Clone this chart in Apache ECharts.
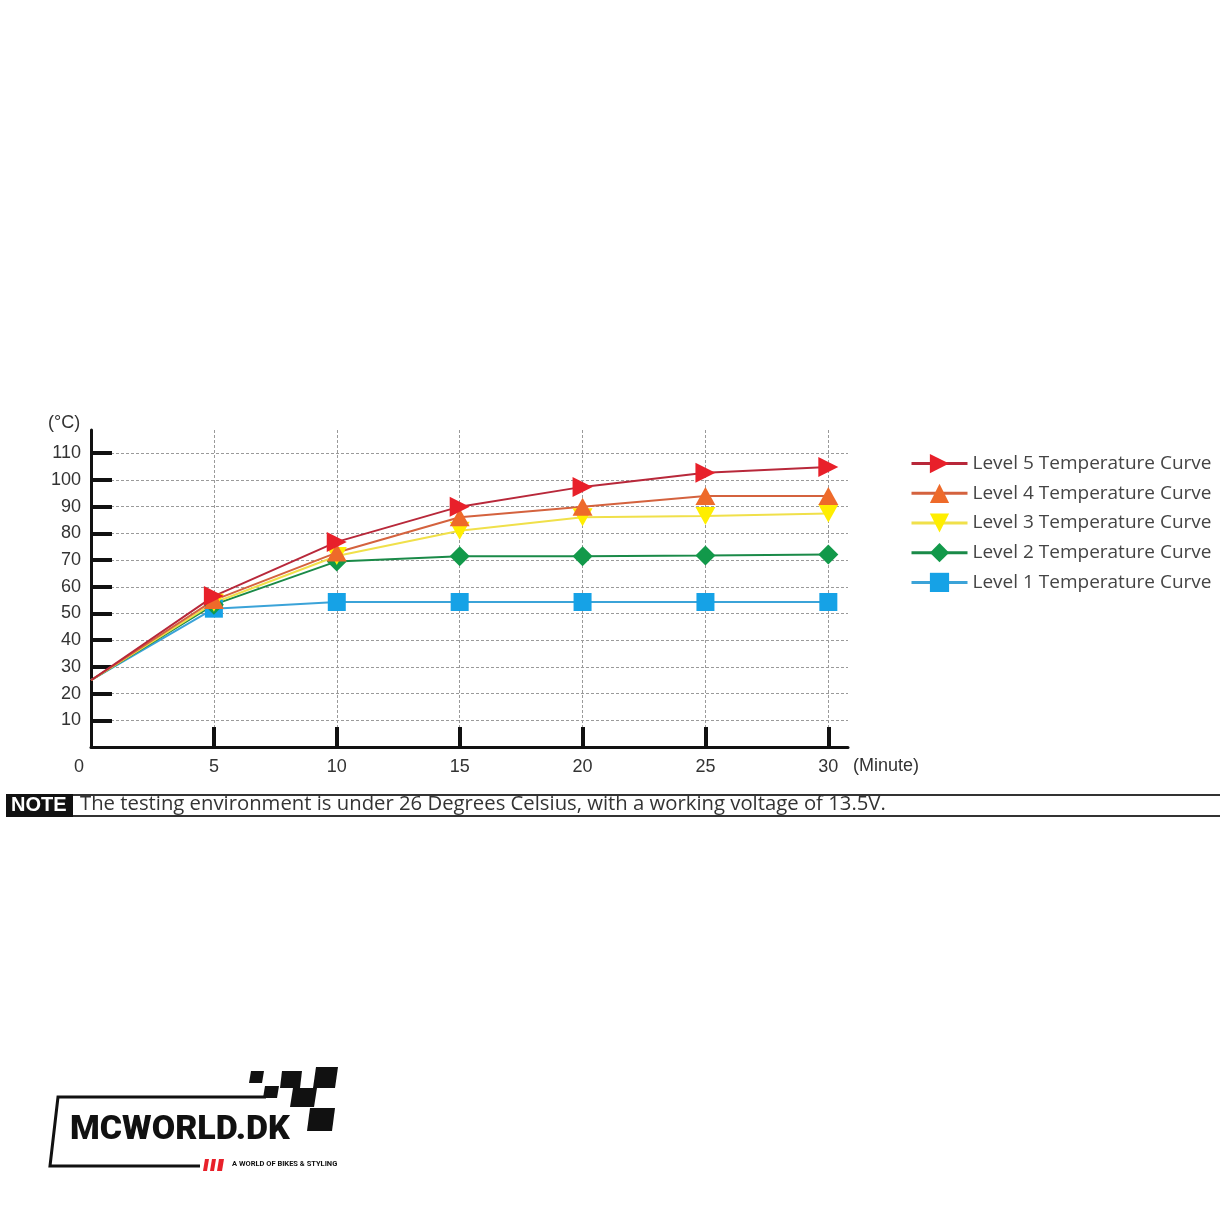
<!DOCTYPE html>
<html>
<head>
<meta charset="utf-8">
<script src="https://cdn.jsdelivr.net/npm/echarts@6/dist/echarts.min.js"></script>
<style>
  html, body { margin: 0; padding: 0; background: #fff; }
  #chart { width: 1220px; height: 1220px; }
</style>
</head>
<body>
<div id="chart"></div>
<script>
// data
const minutes = [0, 5, 10, 15, 20, 25, 30];
const level5 = [25, 56.5, 76.8, 90, 97.4, 102.7, 104.8];
const level4 = [25, 55, 72.8, 86, 90, 94, 94];
const level3 = [25, 54, 71.5, 81, 86, 86.5, 87.4];
const level2 = [25, 53.3, 69.5, 71.4, 71.4, 71.7, 72.1];
const level1 = [25, 51.8, 54.3, 54.3, 54.3, 54.3, 54.3];
const xTicks = [5, 10, 15, 20, 25, 30];
const xLabels = [0, 5, 10, 15, 20, 25, 30];
const yTicks = [10, 20, 30, 40, 50, 60, 70, 80, 90, 100, 110];
const seriesNames = [
  'Level 1 Temperature Curve',
  'Level 2 Temperature Curve',
  'Level 3 Temperature Curve',
  'Level 4 Temperature Curve',
  'Level 5 Temperature Curve'
];

const chart = echarts.init(document.getElementById('chart'), null, {renderer: 'canvas'});

function makeSeries(name, values, symbol, rotate, size, markColor, lineColor) {
  return {
    name: name,
    type: 'line',
    symbol: symbol,
    symbolRotate: rotate,
    symbolSize: size,
    showAllSymbol: true,
    itemStyle: {color: markColor},
    lineStyle: {color: lineColor, width: 2},
    data: minutes.map((m, i) => i === 0 ? {value: [m, values[i]], symbol: 'none'} : [m, values[i]])
  };
}

const axisFont = {color: '#333', fontSize: 18, fontFamily: 'Liberation Sans'};
const gridDash = {type: [3, 2], color: '#9a9a9a', width: 1};

chart.setOption({
  animation: false,
  backgroundColor: '#fff',
  grid: {left: 91, top: 430, right: 372, bottom: 473, containLabel: false},
  xAxis: {
    type: 'value',
    min: 0,
    max: 30.8,
    axisLine: {show: true, onZero: false, lineStyle: {color: '#111', width: 3}},
    axisTick: {show: true, inside: true, length: 20, customValues: xTicks, lineStyle: {color: '#111', width: 4}},
    axisLabel: {
      show: true,
      customValues: xLabels,
      margin: 11,
      ...axisFont,
      formatter: v => v === 0 ? '{z|0}' : String(v),
      rich: {z: {...axisFont, padding: [0, 24, 0, 0]}}
    },
    splitLine: {show: true, lineStyle: gridDash}
  },
  yAxis: {
    type: 'value',
    min: 0,
    max: 118.7,
    axisLine: {show: true, onZero: false, lineStyle: {color: '#111', width: 3}},
    axisTick: {show: true, inside: true, length: 21, customValues: yTicks, lineStyle: {color: '#111', width: 4}},
    axisLabel: {show: true, customValues: yTicks, margin: 10, ...axisFont},
    splitLine: {show: true, lineStyle: gridDash}
  },
  legend: {
    orient: 'vertical',
    left: 905,
    top: 449,
    itemWidth: 56,
    itemHeight: 24,
    itemGap: 10.5,
    lineStyle: {width: 3},
    data: seriesNames.slice().reverse(),
    textStyle: {color: '#444', fontSize: 19, fontFamily: 'Open Sans'}
  },
  series: [
    makeSeries(seriesNames[0], level1, 'rect', 0, 18, '#16a2e6', '#3ba3d8'),
    makeSeries(seriesNames[1], level2, 'diamond', 0, [20, 20], '#12994a', '#1a8a48'),
    makeSeries(seriesNames[2], level3, 'triangle', 180, [20, 18], '#ffee00', '#f0e04a'),
    makeSeries(seriesNames[3], level4, 'triangle', 0, [20, 18], '#ee6a2a', '#d4623e'),
    makeSeries(seriesNames[4], level5, 'triangle', -90, [20, 20], '#e8202a', '#b8283a')
  ],
  graphic: [
    // axis units
    {type: 'text', left: 48, top: 414, style: {text: '(°C)', fill: '#333', font: '18px Liberation Sans'}},
    {type: 'text', left: 853, top: 757, style: {text: '(Minute)', fill: '#333', font: '18px Liberation Sans'}},
    // note strip
    {type: 'line', shape: {x1: 73, y1: 795, x2: 1220, y2: 795}, style: {stroke: '#333', lineWidth: 2}},
    {type: 'line', shape: {x1: 73, y1: 816, x2: 1220, y2: 816}, style: {stroke: '#333', lineWidth: 2}},
    {type: 'rect', shape: {x: 6, y: 794, width: 67, height: 23}, style: {fill: '#111'}},
    {type: 'text', left: 11, top: 795, style: {text: 'NOTE', fill: '#fff', font: 'bold 20px Liberation Sans'}},
    {type: 'text', left: 80, top: 794, style: {text: 'The testing environment is under 26 Degrees Celsius, with a working voltage of 13.5V.', fill: '#333', font: '20.3px Open Sans'}},
    // logo
    {type: 'polyline', shape: {points: [[200, 1166], [50, 1166], [58, 1097], [266, 1097]]}, style: {stroke: '#111', lineWidth: 3, fill: null}},
    {type: 'polygon', shape: {points: [[251, 1071], [264, 1071], [262, 1083], [249, 1083]]}, style: {fill: '#111'}},
    {type: 'polygon', shape: {points: [[265, 1086], [279, 1086], [277, 1098], [263, 1098]]}, style: {fill: '#111'}},
    {type: 'polygon', shape: {points: [[282, 1071], [302, 1071], [300, 1088], [280, 1088]]}, style: {fill: '#111'}},
    {type: 'polygon', shape: {points: [[316, 1067], [338, 1067], [335, 1088], [313, 1088]]}, style: {fill: '#111'}},
    {type: 'polygon', shape: {points: [[293, 1088], [317, 1088], [314, 1107], [290, 1107]]}, style: {fill: '#111'}},
    {type: 'polygon', shape: {points: [[310, 1108], [335, 1108], [332, 1131], [307, 1131]]}, style: {fill: '#111'}},
    {type: 'text', left: 70, top: 1113, style: {text: 'MCWORLD.DK', fill: '#111', font: '900 34px Roboto'}},
    {type: 'polygon', shape: {points: [[205, 1159], [209, 1159], [207, 1171], [203, 1171]]}, style: {fill: '#e8202a'}},
    {type: 'polygon', shape: {points: [[212, 1159], [216, 1159], [214, 1171], [210, 1171]]}, style: {fill: '#e8202a'}},
    {type: 'polygon', shape: {points: [[219, 1159], [224, 1159], [222, 1171], [217, 1171]]}, style: {fill: '#e8202a'}},
    {type: 'text', left: 232, top: 1160, style: {text: 'A WORLD OF BIKES & STYLING', fill: '#111', font: 'bold 7.5px Roboto'}}
  ]
});
</script>
</body>
</html>
